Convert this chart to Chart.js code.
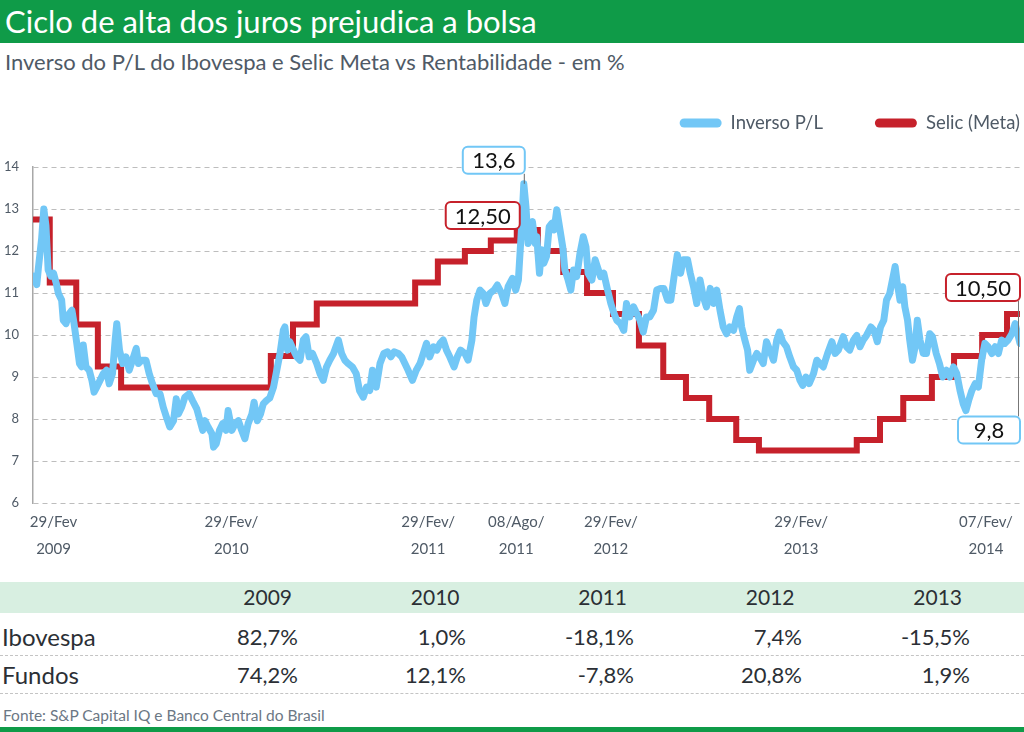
<!DOCTYPE html>
<html>
<head>
<meta charset="utf-8">
<script src="https://cdn.jsdelivr.net/npm/chart.js@4.4.1/dist/chart.umd.min.js"></script>
<style>
  body { margin: 0; width: 1024px; height: 732px; position: relative; overflow: hidden; background: #fff; font-family: Lato, "Open Sans", sans-serif; }
  #title { position: absolute; left: 0; top: 0; width: 1024px; height: 43px; background: #0f9b48; }
  #title span { position: absolute; left: 5px; top: 2px; font-size: 31px; color: #fff; white-space: nowrap; }
  #subtitle { position: absolute; left: 5px; top: 48px; font-size: 22px; color: #4f5a66; white-space: nowrap; }
  #chartBox { position: absolute; left: 0; top: 90px; width: 1024px; height: 490px; }
  #band { position: absolute; left: 0; top: 582px; width: 1024px; height: 31px; background: #d8efe1; }
  .cell { position: absolute; white-space: nowrap; color: #2b2f35; }
  .rule { position: absolute; left: 0; width: 1024px; border-top: 1px dashed #c4c4c4; }
  #source { position: absolute; left: 3px; top: 706px; font-size: 15.5px; color: #6b7784; }
  #bottomBar { position: absolute; left: 0; top: 727px; width: 1024px; height: 5px; background: #0f9b48; }
</style>
</head>
<body>
<div id="title"><span>Ciclo de alta dos juros prejudica a bolsa</span></div>
<div id="subtitle">Inverso do P/L do Ibovespa e Selic Meta vs Rentabilidade - em %</div>
<div id="chartBox"><canvas id="chart"></canvas></div>
<div id="band"></div>
<div id="table"></div>
<div id="source">Fonte: S&amp;P Capital IQ e Banco Central do Brasil</div>
<div id="bottomBar"></div>
<script>
// x values are days counted from 07/Fev/2009
const xTickDays = [38, 367, 731, 894, 1069, 1421, 1763];
const xTickLabels = [['29/Fev', '2009'], ['29/Fev/', '2010'], ['29/Fev/', '2011'], ['08/Ago/', '2011'],
  ['29/Fev/', '2012'], ['29/Fev/', '2013'], ['07/Fev/', '2014']];

const plDays = [0, 7, 10, 16, 20, 24, 28, 33, 38, 43, 47, 53, 56, 61, 67, 72, 76, 81, 86, 90, 93, 98, 104, 109, 113,
  118, 124, 130, 136, 141, 147, 152, 155, 160, 166, 172, 178, 186, 191, 195, 201, 209, 215, 221, 228, 235, 241, 247,
  253, 260, 265, 269, 275, 281, 289, 295, 303, 309, 314, 318, 324, 331, 334, 339, 345, 351, 357, 361, 368, 374, 380,
  386, 392, 398, 405, 409, 415, 421, 426, 432, 438, 445, 451, 457, 463, 466, 471, 475, 482, 488, 494, 500, 505, 511,
  517, 525, 531, 537, 543, 549, 556, 565, 571, 577, 583, 591, 598, 604, 611, 617, 623, 628, 635, 642, 649, 656, 662,
  668, 676, 682, 688, 694, 702, 709, 716, 722, 728, 734, 741, 747, 753, 759, 765, 771, 779, 785, 791, 799, 805, 812,
  816, 821, 827, 833, 838, 845, 853, 859, 867, 873, 879, 887, 893, 898, 904, 908, 912, 916, 921, 924, 929, 932, 937,
  941, 945, 950, 955, 960, 964, 969, 974, 980, 984, 990, 995, 1000, 1006, 1012, 1018, 1023, 1027, 1034, 1040, 1044,
  1050, 1056, 1063, 1069, 1075, 1080, 1087, 1093, 1098, 1104, 1111, 1117, 1123, 1129, 1135, 1141, 1148, 1154, 1161,
  1167, 1174, 1180, 1186, 1192, 1198, 1203, 1211, 1216, 1222, 1228, 1234, 1240, 1246, 1253, 1259, 1265, 1271, 1277,
  1283, 1289, 1296, 1302, 1307, 1311, 1317, 1322, 1326, 1333, 1339, 1344, 1351, 1357, 1363, 1370, 1376, 1381, 1387,
  1394, 1400, 1407, 1413, 1419, 1424, 1430, 1436, 1444, 1450, 1456, 1462, 1470, 1478, 1484, 1490, 1499, 1505, 1511,
  1518, 1524, 1530, 1536, 1542, 1550, 1556, 1562, 1568, 1574, 1579, 1585, 1590, 1595, 1599, 1604, 1609, 1613, 1618,
  1622, 1627, 1632, 1636, 1641, 1647, 1653, 1659, 1664, 1671, 1677, 1683, 1690, 1696, 1703, 1709, 1715, 1721, 1726,
  1731, 1737, 1743, 1749, 1755, 1761, 1767, 1774, 1780, 1786, 1792, 1798, 1804, 1811, 1817, 1823, 1826];
const plValues = [11.4, 11.2, 11.6, 12.3, 13.0, 12.6, 11.55, 11.4, 11.47, 11.23, 10.99, 10.83, 10.35, 10.27, 10.51,
  10.59, 10.27, 9.8, 9.32, 9.24, 9.76, 9.24, 9.16, 8.92, 8.64, 8.76, 8.92, 9.08, 9.16, 8.84, 9.08, 9.88, 10.27, 9.64,
  9.32, 9.48, 9.16, 9.48, 9.68, 9.32, 9.4, 9.4, 9.08, 8.84, 8.6, 8.6, 8.28, 8.04, 7.81, 7.96, 8.48, 8.12, 8.28, 8.52,
  8.6, 8.44, 8.24, 7.96, 7.73, 7.96, 7.81, 7.65, 7.33, 7.41, 7.73, 7.89, 7.73, 8.2, 7.73, 7.89, 7.96, 7.73, 7.53, 7.89,
  8.12, 8.4, 7.96, 8.12, 8.36, 8.44, 8.5, 8.76, 9.16, 9.56, 10.11, 10.19, 9.64, 9.84, 9.64, 9.48, 9.4, 9.88, 9.96,
  9.48, 9.56, 9.32, 9.08, 8.92, 9.24, 9.4, 9.56, 9.88, 9.56, 9.4, 9.32, 9.24, 9.08, 8.68, 8.52, 8.76, 8.68, 9.16, 8.76,
  9.32, 9.56, 9.6, 9.48, 9.6, 9.56, 9.48, 9.32, 9.16, 8.92, 9.16, 9.32, 9.56, 9.8, 9.48, 9.72, 9.64, 9.8, 9.88, 9.64,
  9.48, 9.24, 9.48, 9.64, 9.56, 9.4, 9.88, 10.43, 10.83, 11.07, 10.99, 10.75, 10.99, 11.07, 11.19, 10.99, 10.75, 11.15,
  11.35, 11.07, 11.31, 12.58, 13.6, 13.06, 12.18, 12.58, 12.7, 12.18, 12.34, 11.47, 12.03, 11.71, 11.87, 12.58, 12.66,
  12.5, 12.98, 12.58, 12.1, 11.55, 11.31, 11.07, 11.55, 11.39, 11.95, 12.34, 12.1, 11.47, 11.31, 11.79, 11.63, 11.39,
  11.47, 11.07, 10.75, 10.51, 10.35, 10.27, 10.11, 10.75, 10.43, 10.67, 10.51, 10.35, 10.07, 10.43, 10.43, 10.59,
  11.07, 11.11, 11.11, 10.83, 10.83, 11.39, 11.91, 11.47, 11.79, 11.79, 11.47, 11.15, 10.75, 11.31, 10.91, 10.67,
  11.11, 10.75, 11.07, 10.59, 10.19, 10.03, 10.19, 10.11, 10.43, 10.63, 10.19, 9.88, 9.64, 9.16, 9.4, 9.56, 9.48,
  9.32, 9.84, 9.64, 9.4, 9.88, 10.07, 9.84, 9.72, 9.48, 9.24, 9.16, 8.92, 8.8, 9.0, 8.84, 9.08, 9.4, 9.32, 9.24, 9.56,
  9.84, 9.56, 9.64, 9.96, 9.72, 9.64, 9.88, 9.99, 9.72, 9.88, 9.99, 10.19, 10.11, 9.84, 10.19, 10.35, 10.83, 10.99,
  11.31, 11.63, 11.23, 10.83, 11.15, 10.67, 10.35, 9.88, 9.4, 9.72, 10.35, 9.88, 9.56, 9.56, 10.03, 9.96, 9.56, 9.32,
  9.0, 9.16, 9.0, 9.24, 9.08, 8.68, 8.36, 8.2, 8.44, 8.68, 8.84, 8.76, 9.4, 9.8, 9.72, 9.56, 9.72, 9.56, 9.88, 9.8,
  9.88, 10.03, 10.27, 9.96, 9.8];

const selicDays = [0, 31, 80, 120, 163, 440, 481, 525, 707, 749, 799, 847, 895, 934, 981, 1025, 1073, 1121, 1166,
  1208, 1251, 1301, 1343, 1524, 1567, 1610, 1663, 1704, 1756, 1802, 1826];
const selicRates = [12.75, 11.25, 10.25, 9.25, 8.75, 9.5, 10.25, 10.75, 11.25, 11.75, 12, 12.25, 12.5, 12, 11.5, 11,
  10.5, 9.75, 9, 8.5, 8, 7.5, 7.25, 7.5, 8, 8.5, 9, 9.5, 10, 10.5, 10.5];

const tableYears = ['2009', '2010', '2011', '2012', '2013'];
const ibovespaRet = [82.7, 1.0, -18.1, 7.4, -15.5];
const fundosRet = [74.2, 12.1, -7.8, 20.8, 1.9];

const BLUE = '#72c7f6';
const RED = '#c6212b';
const TEXT = '#4f5a66';

const fmt = (v, d) => v.toFixed(d).replace('.', ',');

// table below the chart
const table = document.getElementById('table');
function addCell(text, right, midY, size) {
  const el = document.createElement('div');
  el.className = 'cell';
  el.textContent = text;
  el.style.fontSize = size + 'px';
  el.style.right = (1024 - right) + 'px';
  el.style.top = (midY - size * 0.62) + 'px';
  table.appendChild(el);
}
tableYears.forEach((yr, i) => addCell(yr, 292 + i * 167.5, 597, 21));
[['Ibovespa', ibovespaRet, 637], ['Fundos', fundosRet, 675]].forEach(([name, vals, midY]) => {
  const el = document.createElement('div');
  el.className = 'cell';
  el.textContent = name;
  el.style.fontSize = '24px';
  el.style.left = '2px';
  el.style.top = (midY - 15) + 'px';
  table.appendChild(el);
  vals.forEach((v, i) => addCell(fmt(v, 1) + '%', 298 + i * 168, midY, 22));
  const rule = document.createElement('div');
  rule.className = 'rule';
  rule.style.top = (midY + 18) + 'px';
  table.appendChild(rule);
});

// rounded line swatches, right aligned above the plot
const lineLegend = {
  id: 'lineLegend',
  afterDraw(chart) {
    const { ctx, chartArea } = chart;
    const y = chartArea.top - 44;
    ctx.save();
    ctx.font = '18.5px Lato';
    ctx.textBaseline = 'middle';
    ctx.lineCap = 'round';
    let x = chartArea.right;
    chart.data.datasets.slice().reverse().forEach(ds => {
      const w = ctx.measureText(ds.label).width;
      x -= w;
      ctx.fillStyle = TEXT;
      ctx.fillText(ds.label, x, y);
      x -= 9;
      ctx.strokeStyle = ds.borderColor;
      ctx.lineWidth = 9;
      ctx.beginPath();
      ctx.moveTo(x - 42 + 4.5, y);
      ctx.lineTo(x - 4.5, y);
      ctx.stroke();
      x -= 42 + 52;
    });
    ctx.restore();
  }
};

function drawTag(ctx, text, color, right, top) {
  ctx.font = '22px Lato';
  const w = Math.max(ctx.measureText(text).width + 18, 62);
  const h = 27;
  ctx.beginPath();
  ctx.roundRect(right - w, top, w, h, 5);
  ctx.fillStyle = '#fff';
  ctx.fill();
  ctx.lineWidth = 2;
  ctx.strokeStyle = color;
  ctx.stroke();
  ctx.fillStyle = '#111';
  ctx.textAlign = 'center';
  ctx.textBaseline = 'middle';
  ctx.fillText(text, right - w / 2, top + h / 2 + 1);
}

// highest interior turning point of a series (top of a cycle)
function cycleTop(data) {
  let best = null;
  for (let i = 1; i < data.length - 1; i++) {
    if (data[i].y > data[i - 1].y && data[i].y > data[i + 1].y && (!best || data[i].y > best.y)) best = data[i];
  }
  return best;
}

// value call-outs for the peaks and the latest readings
const valueTags = {
  id: 'valueTags',
  afterDatasetsDraw(chart) {
    const { ctx, chartArea, scales: { x, y } } = chart;
    const pl = chart.data.datasets[0].data;
    const se = chart.data.datasets[1].data;
    const peak = pl.reduce((a, b) => (b.y > a.y ? b : a));
    const seMax = cycleTop(se);
    const plLast = pl[pl.length - 1];
    const seLast = se[se.length - 1];
    ctx.save();

    const px = x.getPixelForValue(peak.x), py = y.getPixelForValue(peak.y);
    ctx.strokeStyle = '#666';
    ctx.lineWidth = 1;
    ctx.beginPath();
    ctx.moveTo(px + 0.5, py - 10);
    ctx.lineTo(px + 0.5, py);
    ctx.stroke();
    drawTag(ctx, fmt(peak.y, 1), BLUE, px + 1, py - 37);

    const sx = x.getPixelForValue(seMax.x), sy = y.getPixelForValue(seMax.y);
    drawTag(ctx, fmt(seMax.y, 2), RED, sx + 3, sy - 28);

    const ey1 = y.getPixelForValue(seLast.y);
    const ey2 = y.getPixelForValue(plLast.y);
    const ex = chartArea.right;
    ctx.strokeStyle = '#777';
    ctx.lineWidth = 1;
    ctx.beginPath();
    ctx.moveTo(ex - 1.5, ey1 - 13);
    ctx.lineTo(ex - 1.5, ey2 + 73);
    ctx.stroke();
    drawTag(ctx, fmt(seLast.y, 2), RED, ex, ey1 - 40);
    drawTag(ctx, fmt(plLast.y, 1), BLUE, ex, ey2 + 73);
    ctx.restore();
  }
};

new Chart(document.getElementById('chart'), {
  type: 'line',
  data: {
    datasets: [{
      label: 'Inverso P/L',
      data: plDays.map((d, i) => ({ x: d, y: plValues[i] })),
      borderColor: BLUE,
      backgroundColor: BLUE,
      borderWidth: 7,
      borderJoinStyle: 'round',
      borderCapStyle: 'round',
      pointRadius: 0,
      tension: 0
    }, {
      label: 'Selic (Meta)',
      data: selicDays.map((d, i) => ({ x: d, y: selicRates[i] })),
      borderColor: RED,
      backgroundColor: RED,
      borderWidth: 6,
      borderJoinStyle: 'miter',
      pointRadius: 0,
      stepped: 'before'
    }]
  },
  options: {
    responsive: true,
    maintainAspectRatio: false,
    animation: false,
    layout: { padding: { top: 77, left: 4, right: 4, bottom: 11 } },
    plugins: { legend: { display: false }, tooltip: { enabled: false } },
    scales: {
      x: {
        type: 'linear',
        min: 0,
        max: 1826,
        afterBuildTicks: (axis) => { axis.ticks = xTickDays.map(v => ({ value: v })); },
        grid: { display: false, drawTicks: false },
        border: { display: false },
        ticks: {
          autoSkip: false,
          maxRotation: 0,
          padding: 6,
          color: TEXT,
          font: { family: 'Lato', size: 15, lineHeight: 1.8 },
          callback: (value, index) => xTickLabels[index]
        }
      },
      y: {
        min: 6,
        max: 14,
        afterFit: (axis) => { axis.width = 29; },
        grid: { color: '#bdbdbd', lineWidth: 1, drawTicks: false },
        border: { display: true, color: '#a8a8a8', width: 1.5, dash: [5, 4] },
        ticks: {
          stepSize: 1,
          padding: 14,
          color: TEXT,
          font: { family: 'Lato', size: 13 }
        }
      }
    }
  },
  plugins: [lineLegend, valueTags]
});
</script>
</body>
</html>
